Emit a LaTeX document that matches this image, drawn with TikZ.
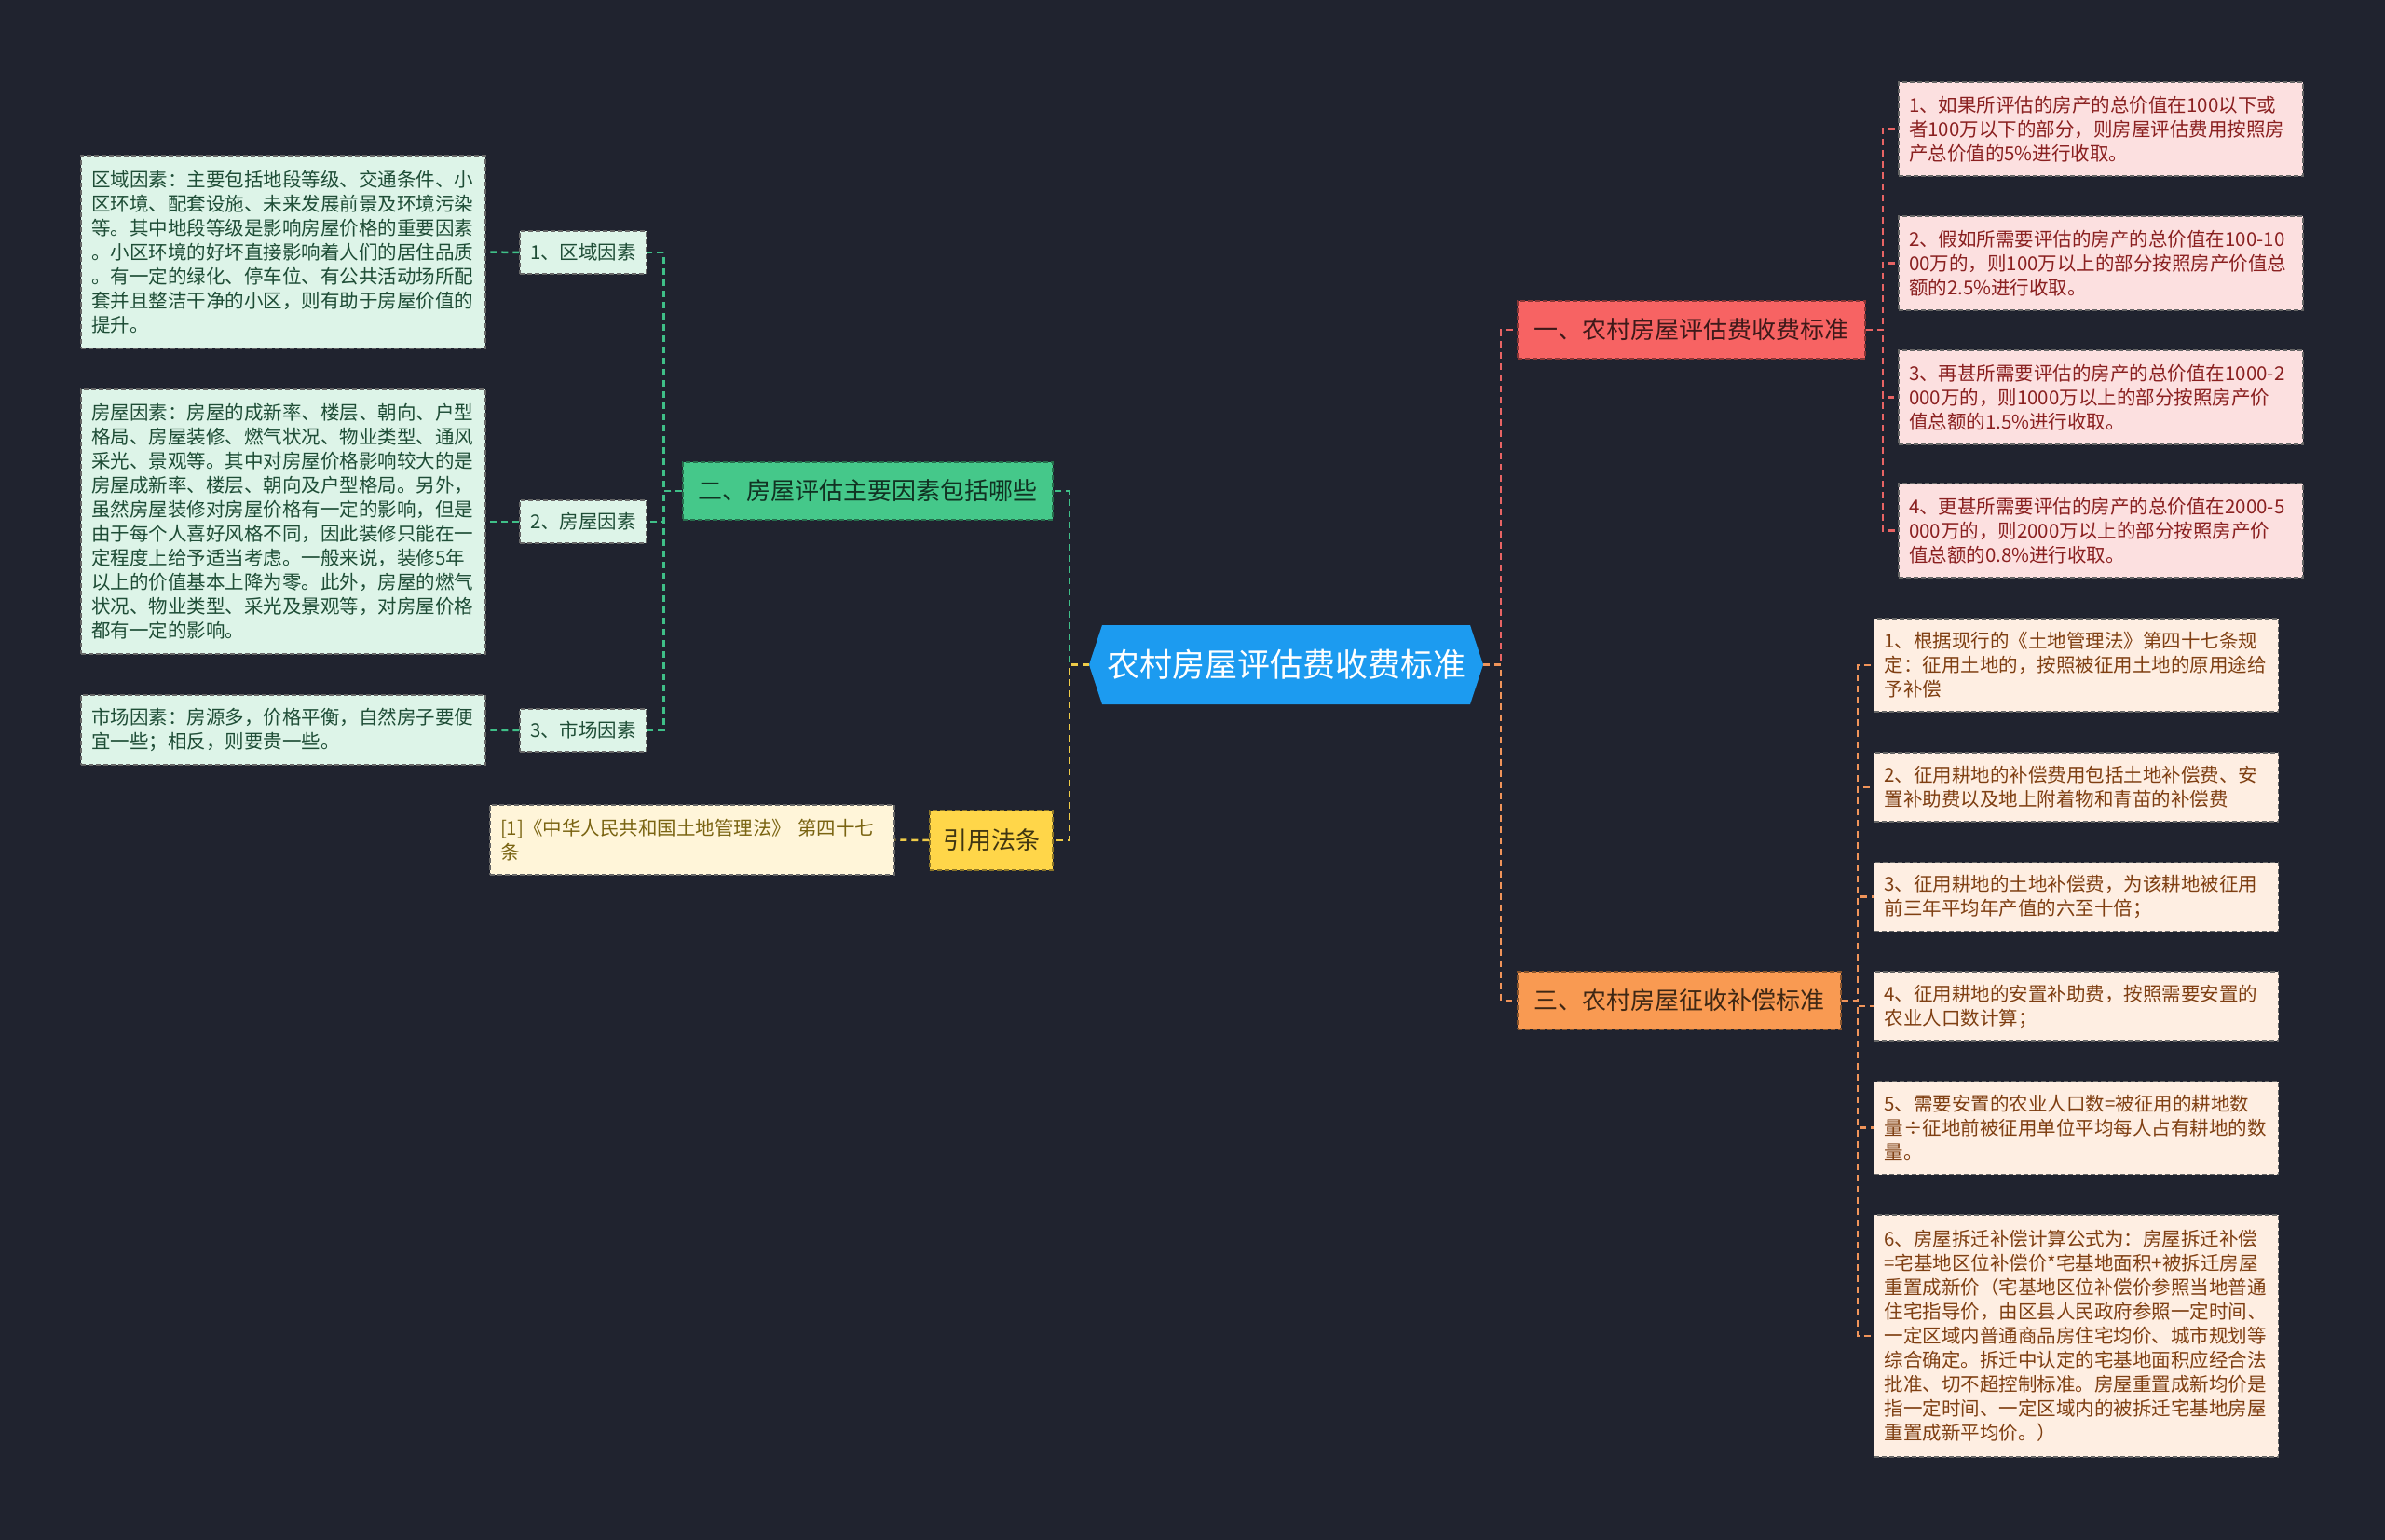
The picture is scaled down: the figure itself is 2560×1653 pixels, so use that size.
\documentclass[tikz,border=0pt]{standalone}
\usepackage{fontspec}
\setmainfont{Noto Sans CJK SC}
\usetikzlibrary{calc}
\definecolor{bg}{HTML}{20232F}
\definecolor{cblue}{HTML}{1C9BF0}
\definecolor{cred}{HTML}{F76363}
\definecolor{corange}{HTML}{F99A52}
\definecolor{cgreen}{HTML}{45C88A}
\definecolor{cyellow}{HTML}{FFD649}
\definecolor{lpink}{HTML}{FCE0E0}
\definecolor{lpeach}{HTML}{FEEEE2}
\definecolor{lgreen}{HTML}{DDF4E8}
\definecolor{lcream}{HTML}{FFF5D9}
\definecolor{tpink}{HTML}{8A2020}
\definecolor{tpeach}{HTML}{7F3F12}
\definecolor{tgreen}{HTML}{1E4D36}
\definecolor{tcream}{HTML}{7A6412}
\definecolor{lred}{HTML}{E86464}
\definecolor{lorange}{HTML}{F0945A}
\definecolor{lgreenline}{HTML}{3FBF88}
\definecolor{lyellow}{HTML}{EFCB48}
\tikzset{
  mainbox/.style={draw, dash pattern=on 5pt off 3pt, line width=1.5pt, inner sep=0pt, align=center,
    font=\fontsize{26pt}{32pt}\selectfont, minimum height=62pt},
  leaf/.style={draw=black!60, dash pattern=on 5pt off 3pt, line width=1.3pt, inner xsep=11pt, inner ysep=0pt,
    text width=412pt, align=left, font=\fontsize{20.5pt}{26pt}\selectfont},
  subbox/.style={draw=black!60, fill=lgreen, text=tgreen, dash pattern=on 5pt off 3pt, line width=1.3pt,
    inner sep=0pt, minimum width=136pt, minimum height=46pt, font=\fontsize{20.5pt}{26pt}\selectfont},
  conn/.style={line width=2.5pt, dash pattern=on 7pt off 5pt},
}
\begin{document}
\begin{tikzpicture}[x=1pt,y=-1pt]
\fill[bg] (0,0) rectangle (2560,1653);
\useasboundingbox (0,0) rectangle (2560,1653);

% central hexagon
\fill[cblue] (1169,713.5) -- (1183,671) -- (1578,671) -- (1592,713.5) -- (1578,756) -- (1183,756) -- cycle;
\node (c) [inner sep=0pt, minimum width=423pt, minimum height=85pt, text=white,
  font=\fontsize{35pt}{40pt}\selectfont] at (1380.5,713.5) {农村房屋评估费收费标准};

% main branches
\node (yi) [mainbox, fill=cred, draw=cred!55!black, text=cred!25!black, minimum width=373pt] at (1815.5,354) {一、农村房屋评估费收费标准};
\node (san) [mainbox, fill=corange, draw=corange!55!black, text=corange!25!black, minimum width=347pt] at (1802.5,1074) {三、农村房屋征收补偿标准};
\node (er) [mainbox, fill=cgreen, draw=cgreen!55!black, text=cgreen!25!black, minimum width=397pt] at (931.5,527) {二、房屋评估主要因素包括哪些};
\node (yin) [mainbox, fill=cyellow, draw=cyellow!55!black, text=cyellow!25!black, minimum width=132pt, minimum height=64pt] at (1064,902) {引用法条};

% sub nodes left
\node (s1) [subbox] at (626,271) {1、区域因素};
\node (s2) [subbox] at (626,560) {2、房屋因素};
\node (s3) [subbox] at (626,784) {3、市场因素};

% left leaves
\node (t1) [leaf, fill=lgreen, text=tgreen, minimum height=207pt] at (304,270.5) {区域因素：主要包括地段等级、交通条件、小\\区环境、配套设施、未来发展前景及环境污染\\等。其中地段等级是影响房屋价格的重要因素\\。小区环境的好坏直接影响着人们的居住品质\\。有一定的绿化、停车位、有公共活动场所配\\套并且整洁干净的小区，则有助于房屋价值的\\提升。};
\node (t2) [leaf, fill=lgreen, text=tgreen, minimum height=284pt] at (304,560) {房屋因素：房屋的成新率、楼层、朝向、户型\\格局、房屋装修、燃气状况、物业类型、通风\\采光、景观等。其中对房屋价格影响较大的是\\房屋成新率、楼层、朝向及户型格局。另外，\\虽然房屋装修对房屋价格有一定的影响，但是\\由于每个人喜好风格不同，因此装修只能在一\\定程度上给予适当考虑。一般来说，装修5年\\以上的价值基本上降为零。此外，房屋的燃气\\状况、物业类型、采光及景观等，对房屋价格\\都有一定的影响。};
\node (t3) [leaf, fill=lgreen, text=tgreen, minimum height=75pt] at (304,783.5) {市场因素：房源多，价格平衡，自然房子要便\\宜一些；相反，则要贵一些。};
\node (cite) [leaf, fill=lcream, text=tcream, minimum height=75pt] at (743,901.5) {[1]《中华人民共和国土地管理法》 第四十七\\条};

% right pink leaves
\node (p1) [leaf, fill=lpink, text=tpink, minimum height=101pt] at (2255,138.5) {1、如果所评估的房产的总价值在100以下或\\者100万以下的部分，则房屋评估费用按照房\\产总价值的5\%进行收取。};
\node (p2) [leaf, fill=lpink, text=tpink, minimum height=101pt] at (2255,282.5) {2、假如所需要评估的房产的总价值在100-10\\00万的，则100万以上的部分按照房产价值总\\额的2.5\%进行收取。};
\node (p3) [leaf, fill=lpink, text=tpink, minimum height=101pt] at (2255,426.5) {3、再甚所需要评估的房产的总价值在1000-2\\000万的，则1000万以上的部分按照房产价\\值总额的1.5\%进行收取。};
\node (p4) [leaf, fill=lpink, text=tpink, minimum height=101pt] at (2255,569.5) {4、更甚所需要评估的房产的总价值在2000-5\\000万的，则2000万以上的部分按照房产价\\值总额的0.8\%进行收取。};

% right peach leaves
\node (q1) [leaf, fill=lpeach, text=tpeach, minimum height=100pt] at (2228.5,714) {1、根据现行的《土地管理法》第四十七条规\\定：征用土地的，按照被征用土地的原用途给\\予补偿};
\node (q2) [leaf, fill=lpeach, text=tpeach, minimum height=74pt] at (2228.5,845) {2、征用耕地的补偿费用包括土地补偿费、安\\置补助费以及地上附着物和青苗的补偿费};
\node (q3) [leaf, fill=lpeach, text=tpeach, minimum height=74pt] at (2228.5,962.5) {3、征用耕地的土地补偿费，为该耕地被征用\\前三年平均年产值的六至十倍；};
\node (q4) [leaf, fill=lpeach, text=tpeach, minimum height=74pt] at (2228.5,1080) {4、征用耕地的安置补助费，按照需要安置的\\农业人口数计算；};
\node (q5) [leaf, fill=lpeach, text=tpeach, minimum height=100pt] at (2228.5,1210.5) {5、需要安置的农业人口数=被征用的耕地数\\量÷征地前被征用单位平均每人占有耕地的数\\量。};
\node (q6) [leaf, fill=lpeach, text=tpeach, minimum height=260pt] at (2228.5,1434) {6、房屋拆迁补偿计算公式为：房屋拆迁补偿\\=宅基地区位补偿价*宅基地面积+被拆迁房屋\\重置成新价（宅基地区位补偿价参照当地普通\\住宅指导价，由区县人民政府参照一定时间、\\一定区域内普通商品房住宅均价、城市规划等\\综合确定。拆迁中认定的宅基地面积应经合法\\批准、切不超控制标准。房屋重置成新均价是\\指一定时间、一定区域内的被拆迁宅基地房屋\\重置成新平均价。）};

% connectors: center
\draw[conn, lred] (c.east) -- ++(19,0) |- (yi.west);
\draw[conn, lorange] (c.east) -- ++(19,0) |- (san.west);
\draw[conn, lgreenline] (c.west) -- ++(-21,0) |- (er.east);
\draw[conn, lyellow] (c.west) -- ++(-21,0) |- (yin.east);

% yi -> pink
\foreach \n in {p1,p2,p3,p4}
  \draw[conn, lred] (yi.east) -- ++(18,0) |- (\n.west);
% san -> peach
\foreach \n in {q1,q2,q3,q4,q5,q6}
  \draw[conn, lorange] (san.east) -- ++(17,0) |- (\n.west);
% er -> subs
\foreach \n in {s1,s2,s3}
  \draw[conn, lgreenline] (er.west) -- ++(-20,0) |- (\n.east);
\draw[conn, lgreenline] (s1.west) -- (t1.east);
\draw[conn, lgreenline] (s2.west) -- (t2.east);
\draw[conn, lgreenline] (s3.west) -- (t3.east);
\draw[conn, lyellow] (yin.west) -- (cite.east);
\end{tikzpicture}
\end{document}
